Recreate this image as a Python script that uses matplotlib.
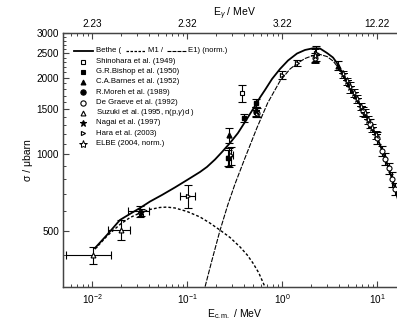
import matplotlib
matplotlib.use("Agg")
import matplotlib.pyplot as plt
from matplotlib.ticker import FixedLocator, NullFormatter, LogFormatterMathtext

plt.rcParams["font.family"] = ["Liberation Sans", "DejaVu Sans"]
plt.rcParams["mathtext.fontset"] = "custom"
plt.rcParams["mathtext.rm"] = "Liberation Sans"
plt.rcParams["mathtext.it"] = "Liberation Sans:italic"
plt.rcParams["mathtext.bf"] = "Liberation Sans:bold"

# Bethe curves (E_cm in MeV, sigma in microbarn)
bethe_e = [0.01075, 0.01438, 0.01971, 0.02512, 0.032, 0.04077, 0.05456, 0.07474, 0.1,
           0.137, 0.1623, 0.1971, 0.2336, 0.2836, 0.3441, 0.4077, 0.4604, 0.5197, 0.5867,
           0.6624, 0.7848, 0.9526, 1.157, 1.439, 1.746, 2.12, 2.512, 2.977, 3.442, 3.793,
           4.386, 5.197, 6.16, 7.848, 10.0, 12.14, 14.39, 16.24, 19.71]
bethe_s = [427, 481, 551, 582, 614, 651, 691, 740, 791,
           851, 891, 953, 1020, 1107, 1212, 1339, 1440, 1548, 1672,
           1790, 1977, 2165, 2338, 2491, 2572, 2612, 2607, 2503, 2402, 2285,
           2061, 1839, 1645, 1397, 1166, 972, 804, 686, 513]
m1_e = [0.01075, 0.01438, 0.01971, 0.02512, 0.032, 0.04077, 0.05195, 0.06148, 0.07474,
        0.1, 0.137, 0.1736, 0.2218, 0.2836, 0.3623, 0.4305, 0.4939, 0.5695, 0.6624, 0.7464]
m1_s = [423, 476, 529, 563, 587, 606, 617, 619, 614,
        595, 566, 536, 503, 470, 431, 401, 373, 341, 300, 272]
e1_e = [0.137, 0.1547, 0.1833, 0.2218, 0.2686, 0.32, 0.4077, 0.5438, 0.7065, 0.9526,
        1.216, 1.439, 1.746, 2.12, 2.512, 2.977, 3.442, 3.793, 4.386, 5.197, 6.16,
        7.848, 10.0, 12.14, 14.39, 16.24, 19.71]
e1_s = [255, 300, 383, 499, 631, 763, 966, 1268, 1591, 1941,
        2165, 2275, 2381, 2446, 2469, 2424, 2328, 2225, 2031, 1810, 1630,
        1385, 1160, 968, 800, 683, 511]

# experiments
shin_e = [0.38]
shin_s = [1740]
shin_err = [140]

bish_e = [0.27, 0.40, 0.535]
bish_s = [965, 1390, 1590]
bish_err = [70, 55, 60]

barn_e = [0.28, 3.9]
barn_s = [1190, 2230]
barn_err = [80, 90]

moreh_e = [0.535]
moreh_s = [1467]
moreh_err = [60]

degr_e = [0.55, 2.2, 7.2, 8.4, 10.0, 11.2, 12.2, 13.3, 14.4, 15.5]
degr_s = [1455, 2400, 1480, 1320, 1160, 1030, 960, 880, 795, 730]
degr_err = [60, 100, 60, 55, 60, 50, 50, 45, 55, 40]

suz_e = [0.0103, 0.0202, 0.032]
suz_s = [401, 503, 599]
suz_err_lo = [32, 44, 34]
suz_err_hi = [32, 47, 25]
suz_xerr_lo = [0.005, 0.0055, 0.008]
suz_xerr_hi = [0.0057, 0.0049, 0.0078]

nagai_e = [0.033, 0.275, 0.53]
nagai_s = [590, 975, 1480]
nagai_err = [20, 85, 60]

hara_e = [0.1026, 0.29, 1.0, 1.44, 2.3]
hara_s = [684, 990, 2053, 2290, 2500]
hara_err = [72, 80, 75, 60, 170]
hara_xerr = [0.018, 0.015]

elbe_e = [2.25, 4.39, 4.8, 5.2, 5.7, 6.16, 6.8, 7.4, 8.1, 8.9, 9.7]
elbe_s = [2440, 2061, 1940, 1839, 1740, 1645, 1540, 1450, 1360, 1265, 1190]
elbe_err = [150, 60, 60, 90, 60, 60, 50, 50, 50, 45, 45]

top_ticks = [0.01, 0.1, 1, 10]
top_labels = ["2.23", "2.32", "3.22", "12.22"]
y_major = [500, 1000, 1500, 2000, 2500, 3000]

W, H = 397, 322
fig = plt.figure(figsize=(W / 100, H / 100), dpi=100)
x0, y0 = 63.4, 287.0
ax = fig.add_axes([x0 / W, (H - y0) / H, 342.2 / W, 254.0 / H])

ax.plot(bethe_e, bethe_s, color="black", lw=1.3, zorder=3)
ax.plot(m1_e, m1_s, color="black", lw=1.0, ls=(0, (2.0, 1.5)), zorder=3)
ax.plot(e1_e, e1_s, color="black", lw=0.8, ls=(0, (4.5, 1.2)), zorder=3)

eb = dict(color="black", ecolor="black", elinewidth=0.8, capsize=3.0, capthick=0.8,
          ls="none", zorder=4)
ax.errorbar(shin_e, shin_s, yerr=shin_err, marker="s", ms=2.8, mfc="white", mec="black", mew=0.8, **eb)
ax.errorbar(bish_e, bish_s, yerr=bish_err, marker="s", ms=3.0, mfc="black", mec="black", **eb)
ax.errorbar(barn_e, barn_s, yerr=barn_err, marker="^", ms=3.5, mfc="black", mec="black", **eb)
ax.errorbar(moreh_e, moreh_s, yerr=moreh_err, marker="o", ms=3.6, mfc="black", mec="black", **eb)
ax.errorbar(degr_e, degr_s, yerr=degr_err, marker="o", ms=3.6, mfc="white", mec="black", mew=0.8, **eb)
ax.errorbar(suz_e, suz_s, yerr=[suz_err_lo, suz_err_hi], xerr=[suz_xerr_lo, suz_xerr_hi],
            marker="^", ms=3.5, mfc="white", mec="black", mew=0.8, **eb)
ax.errorbar(nagai_e, nagai_s, yerr=nagai_err, marker="*", ms=4.5, mfc="black", mec="black", **eb)
ax.errorbar(hara_e[:2], hara_s[:2], yerr=hara_err[:2], xerr=hara_xerr,
            marker=">", ms=3.0, mfc="white", mec="black", mew=0.8, **eb)
ax.errorbar(hara_e[2:], hara_s[2:], yerr=hara_err[2:],
            marker=">", ms=3.0, mfc="white", mec="black", mew=0.8, **eb)
ax.errorbar(elbe_e, elbe_s, yerr=elbe_err, marker="*", ms=5.5, mfc="white", mec="black", mew=0.7, **eb)

ax.set_xscale("log")
ax.set_yscale("log")
ax.set_xlim(0.005, 20)
ax.set_ylim(300, 3000)

ax.yaxis.set_major_locator(FixedLocator(y_major))
ax.yaxis.set_major_formatter(plt.FixedFormatter([str(v) for v in y_major]))
ax.yaxis.set_minor_locator(FixedLocator([v for v in range(300, 3001, 100) if v not in y_major]))
ax.yaxis.set_minor_formatter(NullFormatter())
ax.xaxis.set_major_formatter(LogFormatterMathtext())

for sp in ax.spines.values():
    sp.set_color("#444444")
    sp.set_linewidth(1.0)
ax.tick_params(which="both", direction="in", colors="#444444", labelcolor="black", labelsize=7.2)
ax.tick_params(which="major", length=4, width=0.8, pad=3)
ax.tick_params(which="minor", length=2.5, width=0.7)
ax.tick_params(axis="x", which="major", pad=4)

ax.set_xlabel(r"E$_{\rm c.m.}$ / MeV", fontsize=7.5, labelpad=0.5)
ax.set_ylabel("σ / μbarn", fontsize=7.5, labelpad=3)

top = ax.twiny()
top.set_xscale("log")
top.set_xlim(ax.get_xlim())
top.set_xticks(top_ticks)
top.set_xticklabels(top_labels)
top.tick_params(which="both", direction="in", colors="#444444", labelcolor="black", labelsize=7.2)
top.tick_params(which="major", length=4, width=0.8, pad=3)
top.tick_params(which="minor", length=2.5, width=0.7)
top.xaxis.set_minor_formatter(NullFormatter())
top.set_xlabel(r"E$_{\gamma}$ / MeV", fontsize=7.5, labelpad=2)
for sp in top.spines.values():
    sp.set_color("#444444")


# hand-made legend, positions in figure pixels
def fx(px):
    return px / W


def fy(py):
    return 1 - py / H


lfs = 5.6
row0 = 51.0
fig.add_artist(plt.Line2D([fx(74), fx(93)], [fy(row0), fy(row0)], color="black", lw=1.3))
fig.text(fx(96.5), fy(row0), "Bethe (", fontsize=lfs, va="center")
fig.add_artist(plt.Line2D([fx(126), fx(145)], [fy(row0), fy(row0)], color="black", lw=0.9,
                          ls=(0, (2.0, 1.2))))
fig.text(fx(147.5), fy(row0), "M1 /", fontsize=lfs, va="center")
fig.add_artist(plt.Line2D([fx(167), fx(186)], [fy(row0), fy(row0)], color="black", lw=0.8,
                          ls=(0, (3.5, 1.0))))
fig.text(fx(188.5), fy(row0), "E1) (norm.)", fontsize=lfs, va="center")

legend_rows = [
    ("Shinohara et al. (1949)", "s", 2.8, "white", 0.8),
    ("G.R.Bishop et al. (1950)", "s", 3.0, "black", 0.8),
    ("C.A.Barnes et al. (1952)", "^", 3.5, "black", 0.8),
    ("R.Moreh et al. (1989)", "o", 3.8, "black", 0.8),
    ("De Graeve et al. (1992)", "o", 3.8, "white", 0.8),
    (r"Suzuki et al. (1995, n(p,$\gamma$)d )", "^", 3.5, "white", 0.8),
    ("Nagai et al. (1997)", "*", 4.8, "black", 0.8),
    ("Hara et al. (2003)", ">", 3.0, "white", 0.8),
    ("ELBE (2004, norm.)", "*", 6, "white", 0.7),
]
for i, (lab, mk, ms, fc, mw) in enumerate(legend_rows):
    yy = 61.5 + 10.25 * i
    fig.add_artist(plt.Line2D([fx(83)], [fy(yy)], marker=mk, ms=ms, mfc=fc, mec="black",
                              mew=mw, ls="none"))
    fig.text(fx(96.5), fy(yy), lab, fontsize=lfs, va="center")

fig.savefig("out.png", dpi=100)
